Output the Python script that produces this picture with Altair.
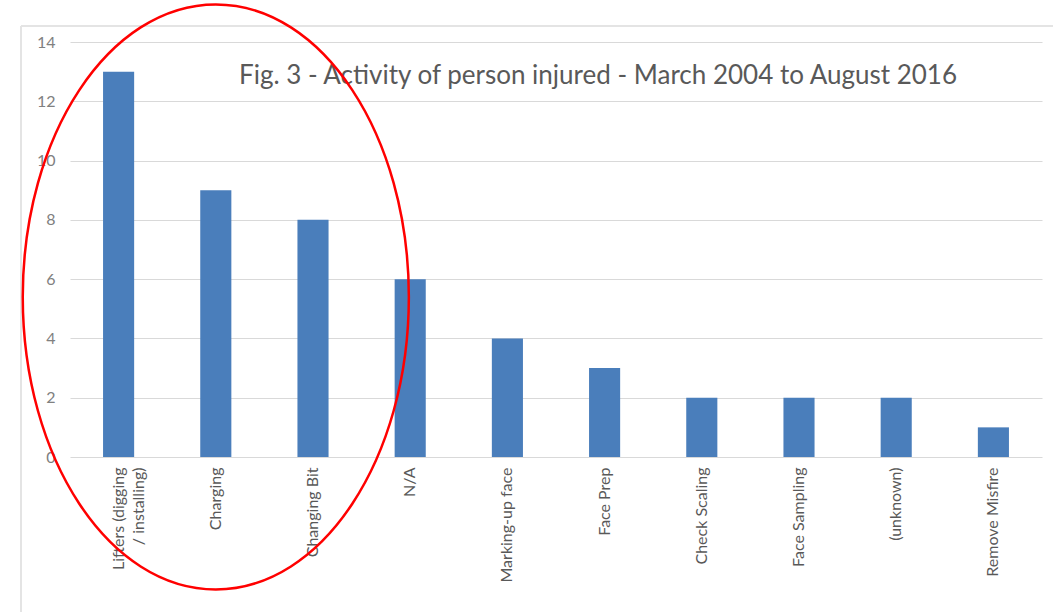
import altair as alt
import pandas as pd

categories = ["Lifters (digging / installing)", "Charging", "Changing Bit", "N/A",
              "Marking-up face", "Face Prep", "Check Scaling", "Face Sampling",
              "(unknown)", "Remove Misfire"]
counts = [13, 9, 8, 6, 4, 3, 2, 2, 2, 1]
y_ticks = [0, 2, 4, 6, 8, 10, 12, 14]
title_text = "Fig. 3 - Activity of person injured - March 2004 to August 2016"

# annotation ellipse anchor (data space)
ann_cat = ["Charging"]
ann_val = [5.4]

df = pd.DataFrame({"activity": categories, "count": counts})
ann = pd.DataFrame({"activity": ann_cat, "count": ann_val})

W, H = 972, 415

xenc = alt.X("activity:N", sort=categories,
             scale=alt.Scale(paddingInner=0.68, paddingOuter=0.34),
             axis=alt.Axis(title=None, labelAngle=270, labelFontSize=16,
                           labelFont="Lato", labelColor="#595959",
                           labelPadding=10, ticks=False, domain=False,
                           labelLimit=200, labelLineHeight=20,
                           labelExpr="datum.value == 'Lifters (digging / installing)' ? ['Lifters (digging', '/ installing)'] : datum.value"))
yscale = alt.Scale(domain=[0, 14], nice=False)

bars = alt.Chart(df).mark_bar(color="#4a7ebb").encode(
    x=xenc,
    y=alt.Y("count:Q", scale=yscale,
            axis=alt.Axis(title=None, values=y_ticks, labelFontSize=16,
                          labelFont="Lato", labelColor="#808080",
                          labelPadding=15, ticks=False, domain=False,
                          gridColor="#d9d9d9", gridWidth=1)),
)

k = 0.5523
rx = 0.66
ell_path = (f"M 0 -1 C {k*rx:.4f} -1 {rx} {-k} {rx} 0 "
            f"C {rx} {k} {k*rx:.4f} 1 0 1 "
            f"C {-k*rx:.4f} 1 {-rx} {k} {-rx} 0 "
            f"C {-rx} {-k} {-k*rx:.4f} -1 0 -1 Z")

ellipse = alt.Chart(ann).mark_point(
    shape=ell_path, filled=False, stroke="#ff0000", strokeWidth=2.5, size=585 * 585, opacity=1
).encode(
    x=alt.X("activity:N", sort=categories),
    y=alt.Y("count:Q", scale=yscale),
)

title = alt.Chart(pd.DataFrame({"t": [title_text]})).mark_text(
    font="Lato", fontSize=26, color="#595959", align="center", baseline="middle"
).encode(text="t:N", x=alt.value(528), y=alt.value(34))

frame_v = alt.Chart(pd.DataFrame({"a": [0]})).mark_rule(color="#e4e4e4", strokeWidth=2).encode(
    x=alt.value(-49), y=alt.value(-16), y2=alt.value(580))
frame_h = alt.Chart(pd.DataFrame({"a": [0]})).mark_rule(color="#e4e4e4", strokeWidth=2).encode(
    y=alt.value(-16), x=alt.value(-49), x2=alt.value(990))

chart = alt.layer(frame_v, frame_h, bars, title, ellipse).properties(
    width=W, height=H,
    autosize=alt.AutoSizeParams(type="none"),
    padding={"left": 70, "top": 42, "right": 11, "bottom": 155},
    background="white",
).configure_view(stroke=None)

chart.save("out.html", embed_options={"renderer": "svg", "actions": False})
